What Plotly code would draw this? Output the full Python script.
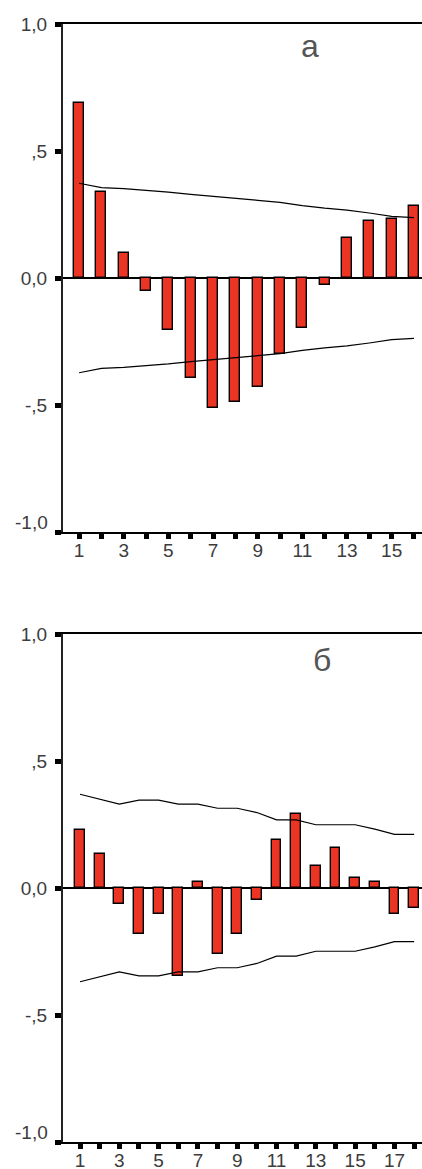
import plotly.graph_objects as go

# ---- data ----------------------------------------------------------
lags_a = list(range(1, 17))
acf_a = [0.69, 0.34, 0.097, -0.052, -0.203, -0.392, -0.511, -0.488,
         -0.431, -0.298, -0.196, -0.027, 0.158, 0.224, 0.231, 0.284]
conf_a = [0.373, 0.356, 0.352, 0.346, 0.338, 0.329, 0.322, 0.314,
          0.306, 0.298, 0.285, 0.275, 0.267, 0.256, 0.243, 0.238]

lags_b = list(range(1, 19))
acf_b = [0.229, 0.133, -0.063, -0.181, -0.102, -0.347, 0.022, -0.259,
         -0.181, -0.046, 0.190, 0.291, 0.088, 0.157, 0.039, 0.022,
         -0.102, -0.079]
conf_b = [0.369, 0.349, 0.330, 0.346, 0.346, 0.330, 0.330, 0.314,
          0.314, 0.297, 0.268, 0.268, 0.249, 0.249, 0.249, 0.232,
          0.211, 0.211]

y_ticks = [1.0, 0.5, 0.0, -0.5, -1.0]
y_labels = ["1,0", ",5", "0,0", "-,5", "-1,0"]
panel_labels = ["а", "б"]

# ---- figure ---------------------------------------------------------
W, H = 422, 1169
RED = "#EC3424"
TXT = "#3c3c3c"
FONT = "Liberation Sans, Arial, sans-serif"

fig = go.Figure()


def add_panel(n, lags, acf, conf, width):
    xa = "x" if n == 1 else f"x{n}"
    ya = "y" if n == 1 else f"y{n}"
    fig.add_trace(go.Bar(x=lags, y=acf, width=width, xaxis=xa, yaxis=ya,
                         marker=dict(color=RED, line=dict(color="black", width=1.4)),
                         showlegend=False))
    for sign in (1, -1):
        fig.add_trace(go.Scatter(x=lags, y=[sign * c for c in conf], mode="lines",
                                 xaxis=xa, yaxis=ya,
                                 line=dict(color="black", width=1.2),
                                 showlegend=False))


add_panel(1, lags_a, acf_a, conf_a, 0.45)
add_panel(2, lags_b, acf_b, conf_b, 0.5)

x_dom = [63 / W, 1.0]


def xaxis(lags, rng, anchor):
    return dict(domain=x_dom, range=rng, anchor=anchor, automargin=False,
                tickmode="array", tickvals=lags,
                ticktext=[str(v) if v % 2 else "" for v in lags],
                ticks="outside", ticklen=5, tickwidth=5, tickcolor="black",
                ticklabelstandoff=-5,
                showline=True, linecolor="black", linewidth=2, mirror=True,
                showgrid=False, zeroline=False,
                tickfont=dict(family=FONT, size=19, color=TXT))


def yaxis(dom, anchor):
    # the bottom label (-1,0) is lifted above its tick, drawn as an annotation
    return dict(domain=dom, range=[-1.0, 1.0], anchor=anchor, automargin=False,
                tickmode="array", tickvals=y_ticks,
                ticktext=y_labels[:-1] + [""],
                ticks="outside", ticklen=6, tickwidth=5, tickcolor="black",
                ticklabelstandoff=4,
                showline=True, linecolor="#222", linewidth=2,
                showgrid=False, zeroline=True, zerolinecolor="black",
                zerolinewidth=1.5,
                tickfont=dict(family=FONT, size=19, color=TXT))


def bottom_label(yref):
    return dict(text=y_labels[-1], x=50 / W, y=y_ticks[-1], xref="paper", yref=yref,
                xanchor="right", yanchor="middle", yshift=10, showarrow=False,
                font=dict(family=FONT, size=19, color=TXT))


fig.update_layout(
    width=W, height=H,
    margin=dict(l=0, r=0, t=0, b=0),
    paper_bgcolor="white", plot_bgcolor="white",
    bargap=0,
    xaxis=xaxis(lags_a, [0.28, 16.36], "y"),
    yaxis=yaxis([1 - 532 / H, 1 - 24 / H], "x"),
    xaxis2=xaxis(lags_b, [0.135, 18.4], "y2"),
    yaxis2=yaxis([1 - 1142 / H, 1 - 634 / H], "x2"),
    annotations=[
        dict(text=panel_labels[0], x=310 / W, y=1 - 46 / H, xref="paper", yref="paper",
             xanchor="center", yanchor="middle", showarrow=False,
             font=dict(family=FONT, size=32, color="#555")),
        dict(text=panel_labels[1], x=322 / W, y=1 - 660 / H, xref="paper", yref="paper",
             xanchor="center", yanchor="middle", showarrow=False,
             font=dict(family=FONT, size=32, color="#555")),
        bottom_label("y"),
        bottom_label("y2"),
    ],
)

# page has a default 8px body margin; drop it so the figure fills the window
fig.write_html("out.html", config={"displayModeBar": False},
               post_script="document.body.style.margin='0';"
                           "document.body.style.overflow='hidden';")
